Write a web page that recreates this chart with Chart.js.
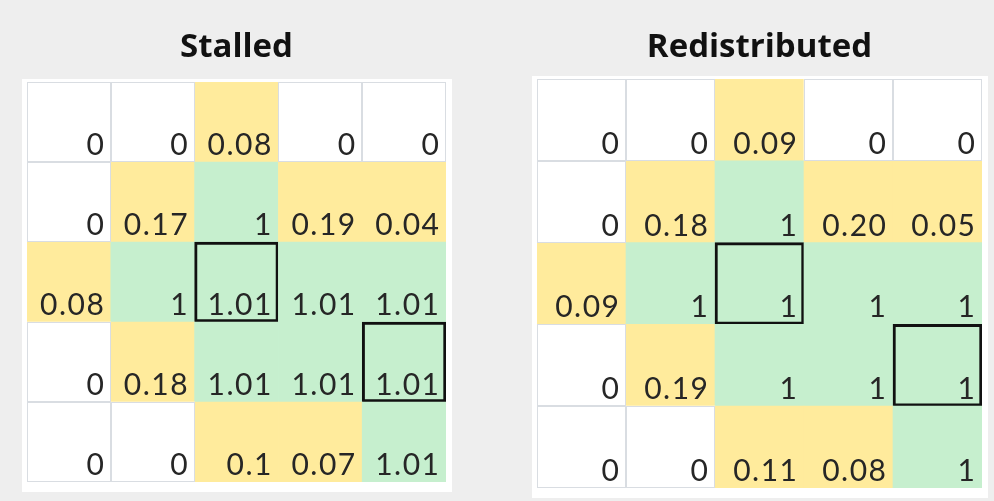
<!DOCTYPE html>
<html>
<head>
<meta charset="utf-8">
<script src="https://cdn.jsdelivr.net/npm/chart.js@4.4.1/dist/chart.umd.min.js"></script>
<style>
  html, body { margin: 0; padding: 0; background: #eeeeee; width: 994px; height: 501px; overflow: hidden; }
  .wrap { position: absolute; top: 0; height: 501px; }
  #w1 { left: 0; width: 473px; }
  #w2 { left: 497px; width: 497px; }
</style>
</head>
<body>
<div class="wrap" id="w1"><canvas id="c1"></canvas></div>
<div class="wrap" id="w2"><canvas id="c2"></canvas></div>
<script>
// ---- data ----
const columns = ["C1", "C2", "C3", "C4", "C5"];
const rows = ["R1", "R2", "R3", "R4", "R5"];

const stalledTitle = "Stalled";
const stalledRow1 = ["0", "0", "0.08", "0", "0"];
const stalledRow2 = ["0", "0.17", "1", "0.19", "0.04"];
const stalledRow3 = ["0.08", "1", "1.01", "1.01", "1.01"];
const stalledRow4 = ["0", "0.18", "1.01", "1.01", "1.01"];
const stalledRow5 = ["0", "0", "0.1", "0.07", "1.01"];

const redistTitle = "Redistributed";
const redistRow1 = ["0", "0", "0.09", "0", "0"];
const redistRow2 = ["0", "0.18", "1", "0.20", "0.05"];
const redistRow3 = ["0.09", "1", "1", "1", "1"];
const redistRow4 = ["0", "0.19", "1", "1", "1"];
const redistRow5 = ["0", "0", "0.11", "0.08", "1"];

// highlighted cells [row, col]
const highlighted = [[2, 2], [3, 4]];

// ---- styling ----
const WHITE = "#ffffff", YELLOW = "#ffeb9c", GREEN = "#c6efce";
function cellColor(v) { return v === 0 ? WHITE : (v < 0.5 ? YELLOW : GREEN); }

function buildChart(canvasId, title, grid, pad, titlePad) {
  // dataset 0 is the bottom row (stacked bars grow upward)
  const datasets = [];
  for (let r = grid.length - 1; r >= 0; r--) {
    const vals = grid[r].map(Number);
    datasets.push({
      label: rows[r],
      rowIndex: r,
      labels: grid[r],
      values: vals,
      data: vals.map(() => 1),
      backgroundColor: vals.map(cellColor),
      borderColor: vals.map((v, c) => highlighted.some(h => h[0] === r && h[1] === c) ? "#111111" : "rgba(0,0,0,0)"),
      borderWidth: vals.map((v, c) => highlighted.some(h => h[0] === r && h[1] === c) ? 3 : 0),
      borderSkipped: false,
      barPercentage: 1,
      categoryPercentage: 1
    });
  }

  const panelPlugin = {
    id: "panel",
    beforeDraw(chart) {
      const a = chart.chartArea, ctx = chart.ctx;
      ctx.save();
      ctx.fillStyle = "#ffffff";
      ctx.fillRect(a.left - 5, a.top - 3, a.right - a.left + 11, a.bottom - a.top + 13);
      ctx.restore();
    }
  };

  const cellPlugin = {
    id: "cells",
    afterDatasetsDraw(chart) {
      const ctx = chart.ctx;
      ctx.save();
      // light grid lines around white cells
      ctx.strokeStyle = "#d9dde2";
      ctx.lineWidth = 1;
      chart.data.datasets.forEach((ds, di) => {
        const meta = chart.getDatasetMeta(di);
        meta.data.forEach((bar, c) => {
          if (ds.values[c] !== 0) return;
          const x0 = Math.round(bar.x - bar.width / 2) + 0.5;
          const x1 = Math.round(bar.x + bar.width / 2) - 0.5;
          const y0 = Math.round(bar.y) + 0.5;
          const y1 = Math.round(bar.base) - 0.5;
          ctx.strokeRect(x0, y0, x1 - x0, y1 - y0);
        });
      });
      // value labels
      ctx.fillStyle = "#262626";
      ctx.font = "30px Lato, 'Open Sans', sans-serif";
      ctx.letterSpacing = "1.5px";
      ctx.textAlign = "right";
      ctx.textBaseline = "alphabetic";
      chart.data.datasets.forEach((ds, di) => {
        const meta = chart.getDatasetMeta(di);
        meta.data.forEach((bar, c) => {
          ctx.fillText(ds.labels[c], bar.x + bar.width / 2 - 5.5, bar.base - 7);
        });
      });
      ctx.restore();
    }
  };

  return new Chart(document.getElementById(canvasId), {
    type: "bar",
    data: { labels: columns, datasets },
    options: {
      responsive: true,
      maintainAspectRatio: false,
      animation: false,
      layout: { padding: pad },
      scales: {
        x: { stacked: true, display: false },
        y: { stacked: true, display: false, min: 0, max: 5 }
      },
      plugins: {
        legend: { display: false },
        tooltip: { enabled: false },
        title: {
          display: true,
          text: title,
          color: "#111111",
          font: { family: "'Open Sans', Lato, sans-serif", size: 33, weight: "bold" },
          padding: titlePad
        }
      }
    },
    plugins: [panelPlugin, cellPlugin]
  });
}

const stalledGrid = [stalledRow1, stalledRow2, stalledRow3, stalledRow4, stalledRow5];
const redistGrid = [redistRow1, redistRow2, redistRow3, redistRow4, redistRow5];

buildChart("c1", stalledTitle, stalledGrid, { left: 27, right: 27, top: 0, bottom: 19 }, { top: 28, bottom: 14.4 });
buildChart("c2", redistTitle, redistGrid, { left: 40, right: 12, top: 0, bottom: 13 }, { top: 28, bottom: 11.4 });
</script>
</body>
</html>
